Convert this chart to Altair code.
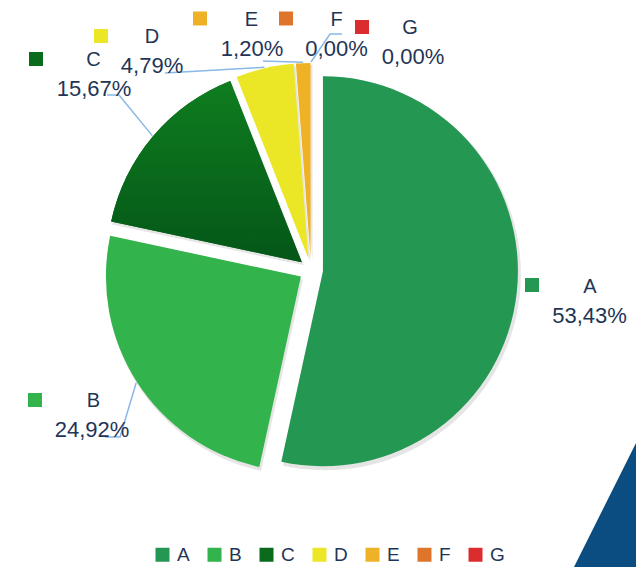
import math
import altair as alt
import pandas as pd

# ---- data ----
categories = ["A", "B", "C", "D", "E", "F", "G"]
values = [53.43, 24.92, 15.67, 4.79, 1.20, 0.00, 0.00]
pct_labels = ["53,43%", "24,92%", "15,67%", "4,79%", "1,20%", "0,00%", "0,00%"]

# ---- styles / layout ----
colors = ["#249753", "#32b34b", "#0a6b1c", "#ebe727", "#efb227", "#de752b", "#dc2d2e"]
W, H = 628, 559
CX, CY = 303, 262
R = 195
EXPLODE = 12
TXT = "#1f3556"
LINE = "#8ab8e8"
FONT = "Liberation Sans"

# label layout (square centre, name centre, percent centre)
sq_pos = {"A": (524, 277), "B": (27, 392), "C": (28, 51), "D": (93, 28),
          "E": (192, 10.5), "F": (278, 10.5), "G": (354, 19)}
name_pos = {"A": (582, 279), "B": (85.5, 393), "C": (85.5, 52), "D": (144, 29),
            "E": (243.5, 12), "F": (328.5, 12), "G": (402, 20)}
pct_pos = {"A": (581.5, 308), "B": (84, 422), "C": (86, 81), "D": (144, 58),
           "E": (244, 41), "F": (328.5, 41), "G": (405, 49)}
# leader line elbows / ends (after the slice anchor)
leader_pts = {"B": [(112, 429), (97, 429)], "C": [(111, 87), (99, 87)],
              "D": [(157, 65)], "E": [(255, 53)], "F": [(322, 26), (334, 26)]}

df = pd.DataFrame({"cat": categories, "value": values, "label": pct_labels,
                   "order": list(range(len(categories)))})

color_scale = alt.Scale(domain=categories, range=colors)

base = (
    alt.Chart(df)
    .transform_window(cum="sum(value)", sort=[alt.SortField("order")], frame=[None, 0])
    .transform_joinaggregate(total="sum(value)")
    .transform_calculate(
        f0="(datum.cum - datum.value) / datum.total",
        f1="datum.cum / datum.total",
    )
    .transform_calculate(mid="(datum.f0 + datum.f1) * PI")
    .transform_calculate(
        px=f"{CX} + {EXPLODE} * sin(datum.mid)",
        py=f"{CY} - {EXPLODE} * cos(datum.mid)",
    )
)

theta = alt.Theta("f0:Q", scale=alt.Scale(domain=[0, 1], range=[0, 2 * math.pi]))

shadow = base.mark_arc(radius=R + 1, fill="#000000", opacity=0.10).encode(
    x=alt.X("sx:Q", scale=None, axis=None),
    y=alt.Y("sy:Q", scale=None, axis=None),
    theta=theta, theta2="f1:Q",
).transform_calculate(sx="datum.px + 2", sy="datum.py + 3")

pie = base.mark_arc(radius=R).encode(
    x=alt.X("px:Q", scale=None, axis=None),
    y=alt.Y("py:Q", scale=None, axis=None),
    theta=theta, theta2="f1:Q",
    color=alt.Color(
        "cat:N", scale=color_scale,
        legend=alt.Legend(
            orient="none", legendX=145, legendY=537, direction="horizontal",
            title=None, symbolType="square", symbolSize=196, symbolStrokeWidth=0,
            labelFontSize=19, labelColor=TXT, labelFont=FONT, labelOffset=5,
            columnPadding=15, symbolOpacity=1,
        ),
    ),
)

c_grad = base.transform_filter("datum.cat == 'C'").mark_arc(
    radius=R,
    fill=alt.Gradient(
        gradient="linear",
        stops=[alt.GradientStop(color="#0f7d1f", offset=0),
               alt.GradientStop(color="#045618", offset=1)],
        x1=0, x2=0, y1=0, y2=1,
    ),
).encode(
    x=alt.X("px:Q", scale=None, axis=None),
    y=alt.Y("py:Q", scale=None, axis=None),
    theta=theta, theta2="f1:Q",
)

# leader lines: anchor at slice mid-angle on the rim, then the elbows
rows = []
cum = 0.0
total = sum(values)
for cat, v in zip(categories, values):
    mid = (cum + v / 2) / total * 2 * math.pi
    cum += v
    if cat in leader_pts:
        ex = CX + EXPLODE * math.sin(mid)
        ey = CY - EXPLODE * math.cos(mid)
        ax = ex + (R + 1) * math.sin(mid)
        ay = ey - (R + 1) * math.cos(mid)
        pts = [(ax, ay)] + leader_pts[cat]
        for i, (x, y) in enumerate(pts):
            rows.append({"cat": cat, "i": i, "x": x, "y": y})
lines_df = pd.DataFrame(rows)

lines = alt.Chart(lines_df).mark_line(color=LINE, strokeWidth=1.5).encode(
    x=alt.X("x:Q", scale=None, axis=None),
    y=alt.Y("y:Q", scale=None, axis=None),
    detail="cat:N", order="i:Q",
)

lab_df = pd.DataFrame({
    "cat": categories,
    "label": pct_labels,
    "sx": [sq_pos[c][0] for c in categories], "sy": [sq_pos[c][1] for c in categories],
    "nx": [name_pos[c][0] for c in categories], "ny": [name_pos[c][1] for c in categories],
    "qx": [pct_pos[c][0] for c in categories], "qy": [pct_pos[c][1] for c in categories],
})

squares = alt.Chart(lab_df).mark_square(size=196, opacity=1).encode(
    x=alt.X("sx:Q", scale=None, axis=None),
    y=alt.Y("sy:Q", scale=None, axis=None),
    color=alt.Color("cat:N", scale=color_scale, legend=None),
)

names = alt.Chart(lab_df).mark_text(
    fontSize=20, font=FONT, color=TXT, align="center", baseline="middle"
).encode(
    x=alt.X("nx:Q", scale=None, axis=None),
    y=alt.Y("ny:Q", scale=None, axis=None),
    text="cat:N",
)

pcts = alt.Chart(lab_df).mark_text(
    fontSize=22, font=FONT, color=TXT, align="center", baseline="middle"
).encode(
    x=alt.X("qx:Q", scale=None, axis=None),
    y=alt.Y("qy:Q", scale=None, axis=None),
    text="label:N",
)

# decorative corner triangle
tri = alt.Chart(pd.DataFrame({"k": [0]})).mark_point(
    shape="M0.5,-1L-0.5,1L0.5,1Z", size=148 * 148, filled=True,
    fill="#0b4d80", opacity=1, strokeWidth=0,
).encode(x=alt.value(599), y=alt.value(493))

chart = (
    alt.layer(tri, shadow, pie, c_grad, lines, squares, names, pcts)
    .properties(width=W, height=H, padding=0, autosize="none")
    .configure_view(stroke=None)
)

chart.save("out.html", embed_options={"renderer": "svg", "actions": False})
